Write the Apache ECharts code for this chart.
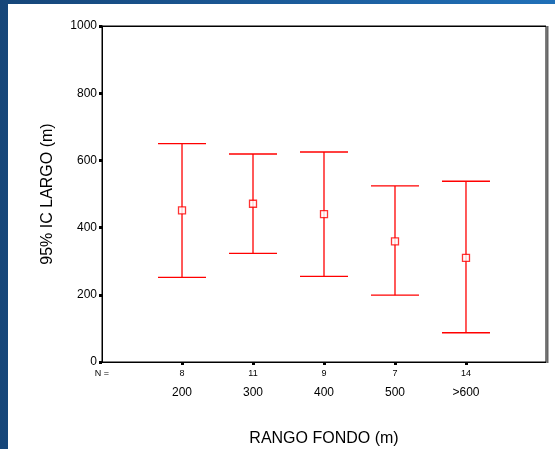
<!DOCTYPE html>
<html>
<head>
<meta charset="utf-8">
<script src="https://cdn.jsdelivr.net/npm/echarts@6/dist/echarts.min.js"></script>
<style>
  html, body { margin: 0; padding: 0; width: 555px; height: 449px; overflow: hidden; }
  body { background: linear-gradient(to right, #164679 0%, #1b5a98 50%, #2070b8 100%); position: relative; }
  #chart { position: absolute; left: 8px; top: 4px; width: 547px; height: 445px; background: #ffffff; }
</style>
</head>
<body>
<div id="chart"></div>
<script>
// Data
var categories = ['200', '300', '400', '500', '>600'];
var nValues = [8, 11, 9, 7, 14];
var lowerCI = [252, 323, 255, 199, 87];
var meanValues = [451, 471, 440, 359, 310];
var upperCI = [650, 619, 625, 524, 538];
var yTicks = [0, 200, 400, 600, 800, 1000];

var positions = categories.map(function (c, i) { return i + 1; });
var xMin = -0.127, xMax = 6.127;

var chart = echarts.init(document.getElementById('chart'), null, { renderer: 'canvas' });

var barData = positions.map(function (p, i) { return [p, lowerCI[i], upperCI[i]]; });
var meanData = positions.map(function (p, i) { return [p, meanValues[i]]; });

var option = {
  animation: false,
  backgroundColor: '#ffffff',
  textStyle: { fontFamily: 'Liberation Sans, Arial, sans-serif' },
  grid: {
    left: 94, right: 9, top: 22, bottom: 87,
    outerBoundsMode: 'none', containLabel: false,
    show: true, borderColor: '#000', borderWidth: 1,
    backgroundColor: 'transparent'
  },
  xAxis: {
    type: 'value', min: xMin, max: xMax,
    name: 'RANGO FONDO (m)', nameLocation: 'middle', nameGap: 69,
    nameTextStyle: { fontSize: 16, color: '#000', fontFamily: 'Liberation Sans' },
    axisLine: { show: true, onZero: false, lineStyle: { color: '#000', width: 1 } },
    splitLine: { show: false },
    axisTick: { show: true, customValues: positions, length: 3, lineStyle: { color: '#000', width: 3 } },
    axisLabel: {
      customValues: [xMin].concat(positions),
      margin: 5,
      showMinLabel: true, showMaxLabel: true,
      color: '#000',
      formatter: function (v) {
        var idx = positions.indexOf(v);
        if (idx < 0) return '{n|N =}\n{c| }';
        return '{n|' + nValues[idx] + '}\n{c|' + categories[idx] + '}';
      },
      rich: {
        n: { fontSize: 9, lineHeight: 13, color: '#000', fontFamily: 'Liberation Sans' },
        c: { fontSize: 12, lineHeight: 26, color: '#000', fontFamily: 'Liberation Sans' }
      }
    }
  },
  yAxis: {
    type: 'value', min: 0, max: 1000, interval: 200,
    name: '95% IC LARGO (m)', nameLocation: 'middle', nameGap: 46,
    nameTextStyle: { fontSize: 16, color: '#000', fontFamily: 'Liberation Sans' },
    axisLine: { show: true, onZero: false, lineStyle: { color: '#000', width: 1 } },
    splitLine: { show: false },
    axisTick: { show: true, length: 3, lineStyle: { color: '#000', width: 3 } },
    axisLabel: {
      margin: 5, fontSize: 12, color: '#000', fontFamily: 'Liberation Sans',
      formatter: function (v) { return yTicks.indexOf(v) >= 0 ? String(v) : ''; }
    }
  },
  series: [
    {
      type: 'custom',
      data: barData,
      encode: { x: 0, y: [1, 2] },
      renderItem: function (params, api) {
        var x = api.value(0);
        var lo = api.coord([x, api.value(1)]);
        var hi = api.coord([x, api.value(2)]);
        var half = 24;
        var style = { stroke: '#ff0000', lineWidth: 1.3 };
        return {
          type: 'group',
          children: [
            { type: 'line', shape: { x1: lo[0], y1: lo[1], x2: hi[0], y2: hi[1] }, style: style },
            { type: 'line', shape: { x1: hi[0] - half, y1: hi[1], x2: hi[0] + half, y2: hi[1] }, style: style },
            { type: 'line', shape: { x1: lo[0] - half, y1: lo[1], x2: lo[0] + half, y2: lo[1] }, style: style }
          ]
        };
      },
      z: 2
    },
    {
      type: 'scatter',
      data: meanData,
      symbol: 'rect',
      symbolSize: 7,
      itemStyle: { color: '#ffffff', borderColor: '#ff0000', borderWidth: 1.3 },
      z: 3
    }
  ]
};
chart.setOption(option);

// grey drop edge on the right of the frame, as in the reference
var g = chart.getModel().getComponent('grid').coordinateSystem.getRect();
chart.setOption({
  graphic: [
    { type: 'line', silent: true, z: 1, shape: { x1: g.x + g.width + 1.5, y1: g.y, x2: g.x + g.width + 1.5, y2: g.y + g.height + 1 }, style: { stroke: '#666666', lineWidth: 2 } },
    { type: 'line', silent: true, z: 1, shape: { x1: g.x, y1: g.y + 0.5, x2: g.x + g.width, y2: g.y + 0.5 }, style: { stroke: '#000000', lineWidth: 1 } }
  ]
});
</script>
</body>
</html>
